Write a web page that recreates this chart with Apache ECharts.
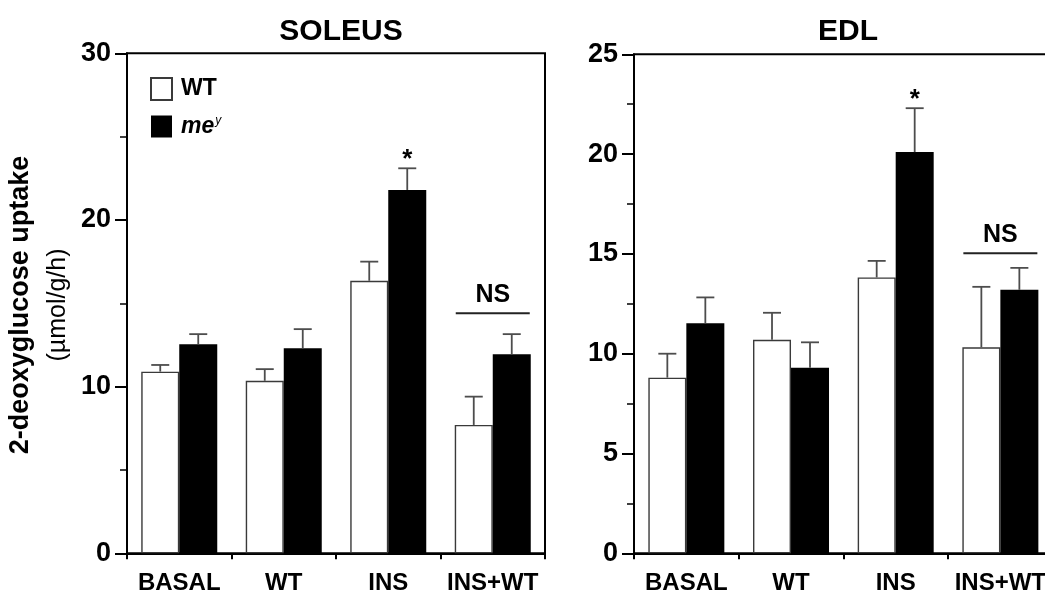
<!DOCTYPE html>
<html>
<head>
<meta charset="utf-8">
<script src="https://cdn.jsdelivr.net/npm/echarts@6/dist/echarts.min.js"></script>
<style>
html,body{margin:0;padding:0;background:#fff;}
#chart{width:1045px;height:596px;}
</style>
</head>
<body>
<div id="chart"></div>
<script>
// ---- data ----
var categories = ['BASAL', 'WT', 'INS', 'INS+WT'];

var soleusWT     = [10.9, 10.35, 16.35, 7.7];
var soleusWTErr  = [0.4, 0.7, 1.15, 1.7];
var soleusMe     = [12.55, 12.3, 21.8, 11.95];
var soleusMeErr  = [0.6, 1.15, 1.3, 1.2];

var edlWT        = [8.8, 10.7, 13.82, 10.32];
var edlWTErr     = [1.2, 1.35, 0.83, 3.03];
var edlMe        = [11.53, 9.3, 20.1, 13.2];
var edlMeErr     = [1.29, 1.27, 2.2, 1.1];

var soleusSig    = ['', '', '*', ''];
var edlSig       = ['', '', '*', ''];
var soleusNS     = [['INS+WT', 14.4]];
var edlNS        = [['INS+WT', 15.03]];

var soleusTicks  = [0, 10, 20, 30];
var edlTicks     = [0, 5, 10, 15, 20, 25];

// ---- rendering ----
var FONT = 'Liberation Sans, Arial, Helvetica, sans-serif';
var BARW = 38;
var chart = echarts.init(document.getElementById('chart'), null, {renderer: 'canvas'});

function errData(vals, errs, sig) {
  return vals.map(function (v, i) { return [i, v, errs[i], sig[i]]; });
}

function errSeries(name, gi, side, vals, errs, sig) {
  return {
    type: 'custom', name: name + '_err', xAxisIndex: gi, yAxisIndex: gi, z: 5,
    silent: true, legendHoverLink: false,
    data: errData(vals, errs, sig),
    encode: {x: 0, y: 1},
    renderItem: function (params, api) {
      var i = api.value(0), v = api.value(1), e = api.value(2);
      var s = sig[i];
      var base = api.coord([i, v]);
      var top = api.coord([i, v + e]);
      var cx = base[0] + side * BARW / 2;
      var children = [
        {type: 'line', shape: {x1: cx, y1: base[1], x2: cx, y2: top[1]},
         style: {stroke: '#4d4d4d', lineWidth: 1.8}},
        {type: 'line', shape: {x1: cx - 9, y1: top[1], x2: cx + 9, y2: top[1]},
         style: {stroke: '#4d4d4d', lineWidth: 1.8}}
      ];
      if (s) {
        children.push({type: 'text', x: cx, y: top[1] - 8,
          style: {text: s, font: 'bold 26px ' + FONT, fill: '#000', align: 'center', verticalAlign: 'middle'}});
      }
      return {type: 'group', children: children};
    }
  };
}

function nsSeries(gi, ns) {
  return {
    type: 'custom', name: 'ns' + gi, xAxisIndex: gi, yAxisIndex: gi, z: 6, silent: true,
    data: ns, encode: {x: 0, y: 1},
    renderItem: function (params, api) {
      var p = api.coord([api.value(0), api.value(1)]);
      return {type: 'group', children: [
        {type: 'line', shape: {x1: p[0] - 37, y1: p[1], x2: p[0] + 37, y2: p[1]},
         style: {stroke: '#222', lineWidth: 2}},
        {type: 'text', x: p[0], y: p[1] - 18,
         style: {text: 'NS', font: 'bold 25px ' + FONT, fill: '#000', align: 'center', verticalAlign: 'middle'}}
      ]};
    }
  };
}

function barSeries(name, gi, vals, white) {
  return {
    type: 'bar', name: name, xAxisIndex: gi, yAxisIndex: gi,
    data: vals, barWidth: BARW, barGap: '0%',
    itemStyle: white ? {color: '#fff', borderColor: '#3a3a3a', borderWidth: 1.4}
                     : {color: '#000', borderColor: '#000', borderWidth: 0},
    emphasis: {disabled: true}
  };
}

function xAxis(gi) {
  return {
    type: 'category', gridIndex: gi, data: categories,
    axisLine: {lineStyle: {color: '#000', width: 2}},
    axisTick: {show: true, length: 6, lineStyle: {color: '#000', width: 2}},
    axisLabel: {color: '#000', fontFamily: FONT, fontWeight: 'bold', fontSize: 24, margin: 18, interval: 0},
    splitLine: {show: false}
  };
}

function yAxis(gi, max, interval) {
  return {
    type: 'value', gridIndex: gi, min: 0, max: max, interval: interval,
    axisLine: {show: true, lineStyle: {color: '#000', width: 2}},
    axisTick: {show: true, length: 12, lineStyle: {color: '#000', width: 2}},
    minorTick: {show: true, splitNumber: 2, length: 7, lineStyle: {color: '#000', width: 1.5}},
    axisLabel: {color: '#000', fontFamily: FONT, fontWeight: 'bold', fontSize: 27, margin: 16},
    splitLine: {show: false}
  };
}

var option = {
  animation: false,
  backgroundColor: '#fff',
  title: [
    {text: 'SOLEUS', left: 336, top: 12, textAlign: 'center',
     textStyle: {fontFamily: FONT, fontWeight: 'bold', fontSize: 30, color: '#000'}},
    {text: 'EDL', left: 843, top: 12, textAlign: 'center',
     textStyle: {fontFamily: FONT, fontWeight: 'bold', fontSize: 30, color: '#000'}}
  ],
  legend: {
    data: ['WT', 'me'], orient: 'vertical', left: 150, top: 77, padding: 0,
    itemWidth: 21, itemHeight: 22, itemGap: 14, icon: 'rect',
    selectedMode: false,
    formatter: function (n) { return n === 'me' ? '{m|me}{s|y}' : '{w|WT}'; },
    textStyle: {
      color: '#000', fontFamily: FONT, padding: [0, 0, 0, 4],
      rich: {
        w: {fontFamily: FONT, fontWeight: 'bold', fontSize: 23, color: '#000'},
        m: {fontFamily: FONT, fontWeight: 'bold', fontStyle: 'italic', fontSize: 23, color: '#000'},
        s: {fontFamily: FONT, fontStyle: 'italic', fontSize: 12, color: '#000', verticalAlign: 'top', padding: [0, 0, 10, 1]}
      }
    }
  },
  grid: [
    {left: 127, top: 53.3, width: 418, height: 500, show: true, borderColor: '#000', borderWidth: 2,
     backgroundColor: 'transparent', containLabel: false, outerBoundsMode: 'none'},
    {left: 634, top: 54.3, width: 418.7, height: 499, show: true, borderColor: '#000', borderWidth: 2,
     backgroundColor: 'transparent', containLabel: false, outerBoundsMode: 'none'}
  ],
  xAxis: [xAxis(0), xAxis(1)],
  yAxis: [yAxis(0, soleusTicks[soleusTicks.length - 1], soleusTicks[1] - soleusTicks[0]),
          yAxis(1, edlTicks[edlTicks.length - 1], edlTicks[1] - edlTicks[0])],
  graphic: [
    {type: 'text', x: 21, y: 305, rotation: Math.PI / 2,
     style: {text: '2-deoxyglucose uptake', font: 'bold 27px ' + FONT, fill: '#000', align: 'center', verticalAlign: 'middle'}},
    {type: 'text', x: 58, y: 305, rotation: Math.PI / 2,
     style: {text: '(\u00b5mol/g/h)', font: '25px ' + FONT, fill: '#000', align: 'center', verticalAlign: 'middle'}}
  ],
  series: [
    barSeries('WT', 0, soleusWT, true),
    barSeries('me', 0, soleusMe, false),
    barSeries('WT', 1, edlWT, true),
    barSeries('me', 1, edlMe, false),
    errSeries('WT', 0, -1, soleusWT, soleusWTErr, ['', '', '', '']),
    errSeries('me', 0, 1, soleusMe, soleusMeErr, soleusSig),
    errSeries('WT', 1, -1, edlWT, edlWTErr, ['', '', '', '']),
    errSeries('me', 1, 1, edlMe, edlMeErr, edlSig),
    nsSeries(0, soleusNS),
    nsSeries(1, edlNS)
  ]
};
chart.setOption(option);
</script>
</body>
</html>
